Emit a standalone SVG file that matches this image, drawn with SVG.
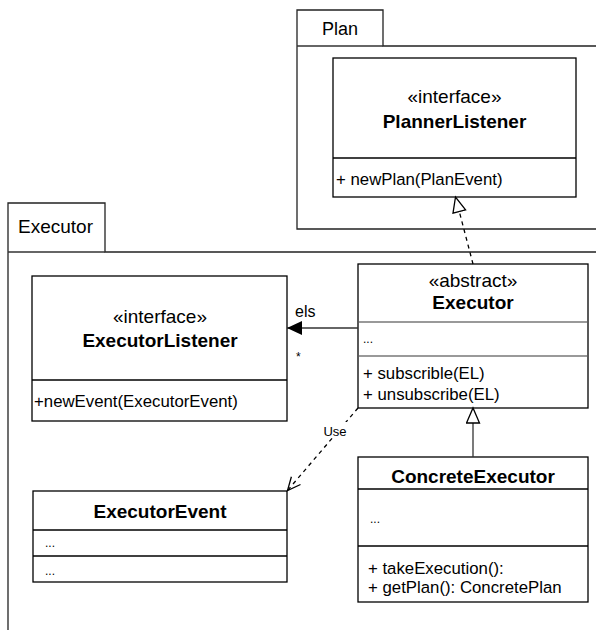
<svg xmlns="http://www.w3.org/2000/svg" width="596" height="635" viewBox="0 0 596 635">
<defs>
<style>
text{font-family:"Liberation Sans",Arial,sans-serif;fill:#000}
.t{font-size:19px;text-anchor:middle}
.b{font-size:19px;font-weight:bold;text-anchor:middle}
.m{font-size:16.8px}
.box{fill:#fff;stroke:#000;stroke-width:1.3}
.pkg{fill:#fff;stroke:#222;stroke-width:1.3}
.div{stroke:#000;stroke-width:1.3;fill:none}
.gdiv{stroke:#999;stroke-width:2;fill:none}
.ln{stroke:#333;stroke-width:1.3;fill:none}
.dash{stroke:#000;stroke-width:1.3;fill:none;stroke-dasharray:4 4}
</style>
<marker id="filled" markerWidth="16" markerHeight="14" refX="15" refY="7" orient="auto" markerUnits="userSpaceOnUse">
<path d="M0,0 L15,7 L0,14 Z" fill="#000"/>
</marker>
<marker id="hollow" markerWidth="18" markerHeight="16" refX="16" refY="7.5" orient="auto" markerUnits="userSpaceOnUse">
<path d="M1,1 L16,7.5 L1,14 Z" fill="#fff" stroke="#000" stroke-width="1.3"/>
</marker>
<marker id="open" markerWidth="16" markerHeight="16" refX="14" refY="7" orient="auto" markerUnits="userSpaceOnUse">
<path d="M1,1 L14,7 L1,13" fill="none" stroke="#000" stroke-width="1.3"/>
</marker>
</defs>
<rect width="596" height="635" fill="#fff"/>

<g id="pkg-plan">
<path class="pkg" d="M297,229 L297,10 L383,10 L383,46 L600,46 L600,229 Z"/>
<line class="ln" x1="297" y1="46" x2="383" y2="46"/>
<text x="322" y="35" style="font-size:18px">Plan</text>
</g>

<g id="pkg-executor">
<path class="pkg" d="M8,630 L8,203 L105,203 L105,252 L600,252"/>
<line class="ln" x1="8" y1="252" x2="105" y2="252"/>
<text x="18" y="233" style="font-size:19px">Executor</text>
</g>

<g id="PlannerListener">
<rect class="box" x="333" y="58" width="243" height="139"/>
<line class="div" x1="333" y1="158" x2="576" y2="158"/>
<text class="t" x="454.5" y="103">«interface»</text>
<text class="b" x="454.5" y="128">PlannerListener</text>
<text class="m" x="336" y="185">+ newPlan(PlanEvent)</text>
</g>

<g id="ExecutorListener">
<rect class="box" x="32" y="276" width="255" height="145"/>
<line class="div" x1="32" y1="380" x2="287" y2="380"/>
<text class="t" x="160" y="322.5">«interface»</text>
<text class="b" x="160" y="347">ExecutorListener</text>
<text class="m" x="34" y="406.5">+newEvent(ExecutorEvent)</text>
</g>

<g id="Executor">
<rect class="box" x="358" y="264" width="230" height="144"/>
<line class="gdiv" x1="359" y1="322" x2="587" y2="322"/>
<line class="gdiv" x1="359" y1="356" x2="587" y2="356"/>
<text class="t" x="473" y="286.5">«abstract»</text>
<text class="b" x="473" y="309">Executor</text>
<text x="363" y="343" style="font-size:12px">...</text>
<text class="m" x="363" y="379">+ subscrible(EL)</text>
<text class="m" x="363" y="400">+ unsubscribe(EL)</text>
</g>

<g id="ExecutorEvent">
<rect class="box" x="33" y="491" width="254" height="91"/>
<line class="div" x1="33" y1="530" x2="287" y2="530"/>
<line class="div" x1="33" y1="556" x2="287" y2="556"/>
<text class="b" x="160" y="518">ExecutorEvent</text>
<text x="45" y="547" style="font-size:12px">...</text>
<text x="45" y="575" style="font-size:12px">...</text>
</g>

<g id="ConcreteExecutor">
<rect class="box" x="358" y="457" width="230" height="145"/>
<line class="div" x1="358" y1="489" x2="588" y2="489"/>
<line class="div" x1="358" y1="546" x2="588" y2="546"/>
<text class="b" x="473" y="483">ConcreteExecutor</text>
<text x="370" y="523" style="font-size:12px">...</text>
<text class="m" x="368" y="574">+ takeExecution():</text>
<text class="m" x="368" y="593">+ getPlan(): ConcretePlan</text>
</g>

<g id="connectors">
<line class="ln" x1="358" y1="328" x2="287" y2="328" marker-end="url(#filled)"/>
<text x="295" y="317" style="font-size:16px">els</text>
<text x="296" y="361" style="font-size:12px">*</text>
<line class="dash" x1="473" y1="264" x2="455.5" y2="197" marker-end="url(#hollow)"/>
<line class="ln" x1="473" y1="457" x2="473" y2="408" marker-end="url(#hollow)"/>
<line class="dash" x1="358" y1="408" x2="287.5" y2="490.5" marker-end="url(#open)"/>
<rect x="323" y="422" width="24" height="14" fill="#fff"/>
<text x="335" y="436" style="font-size:13px;text-anchor:middle">Use</text>
</g>
</svg>
